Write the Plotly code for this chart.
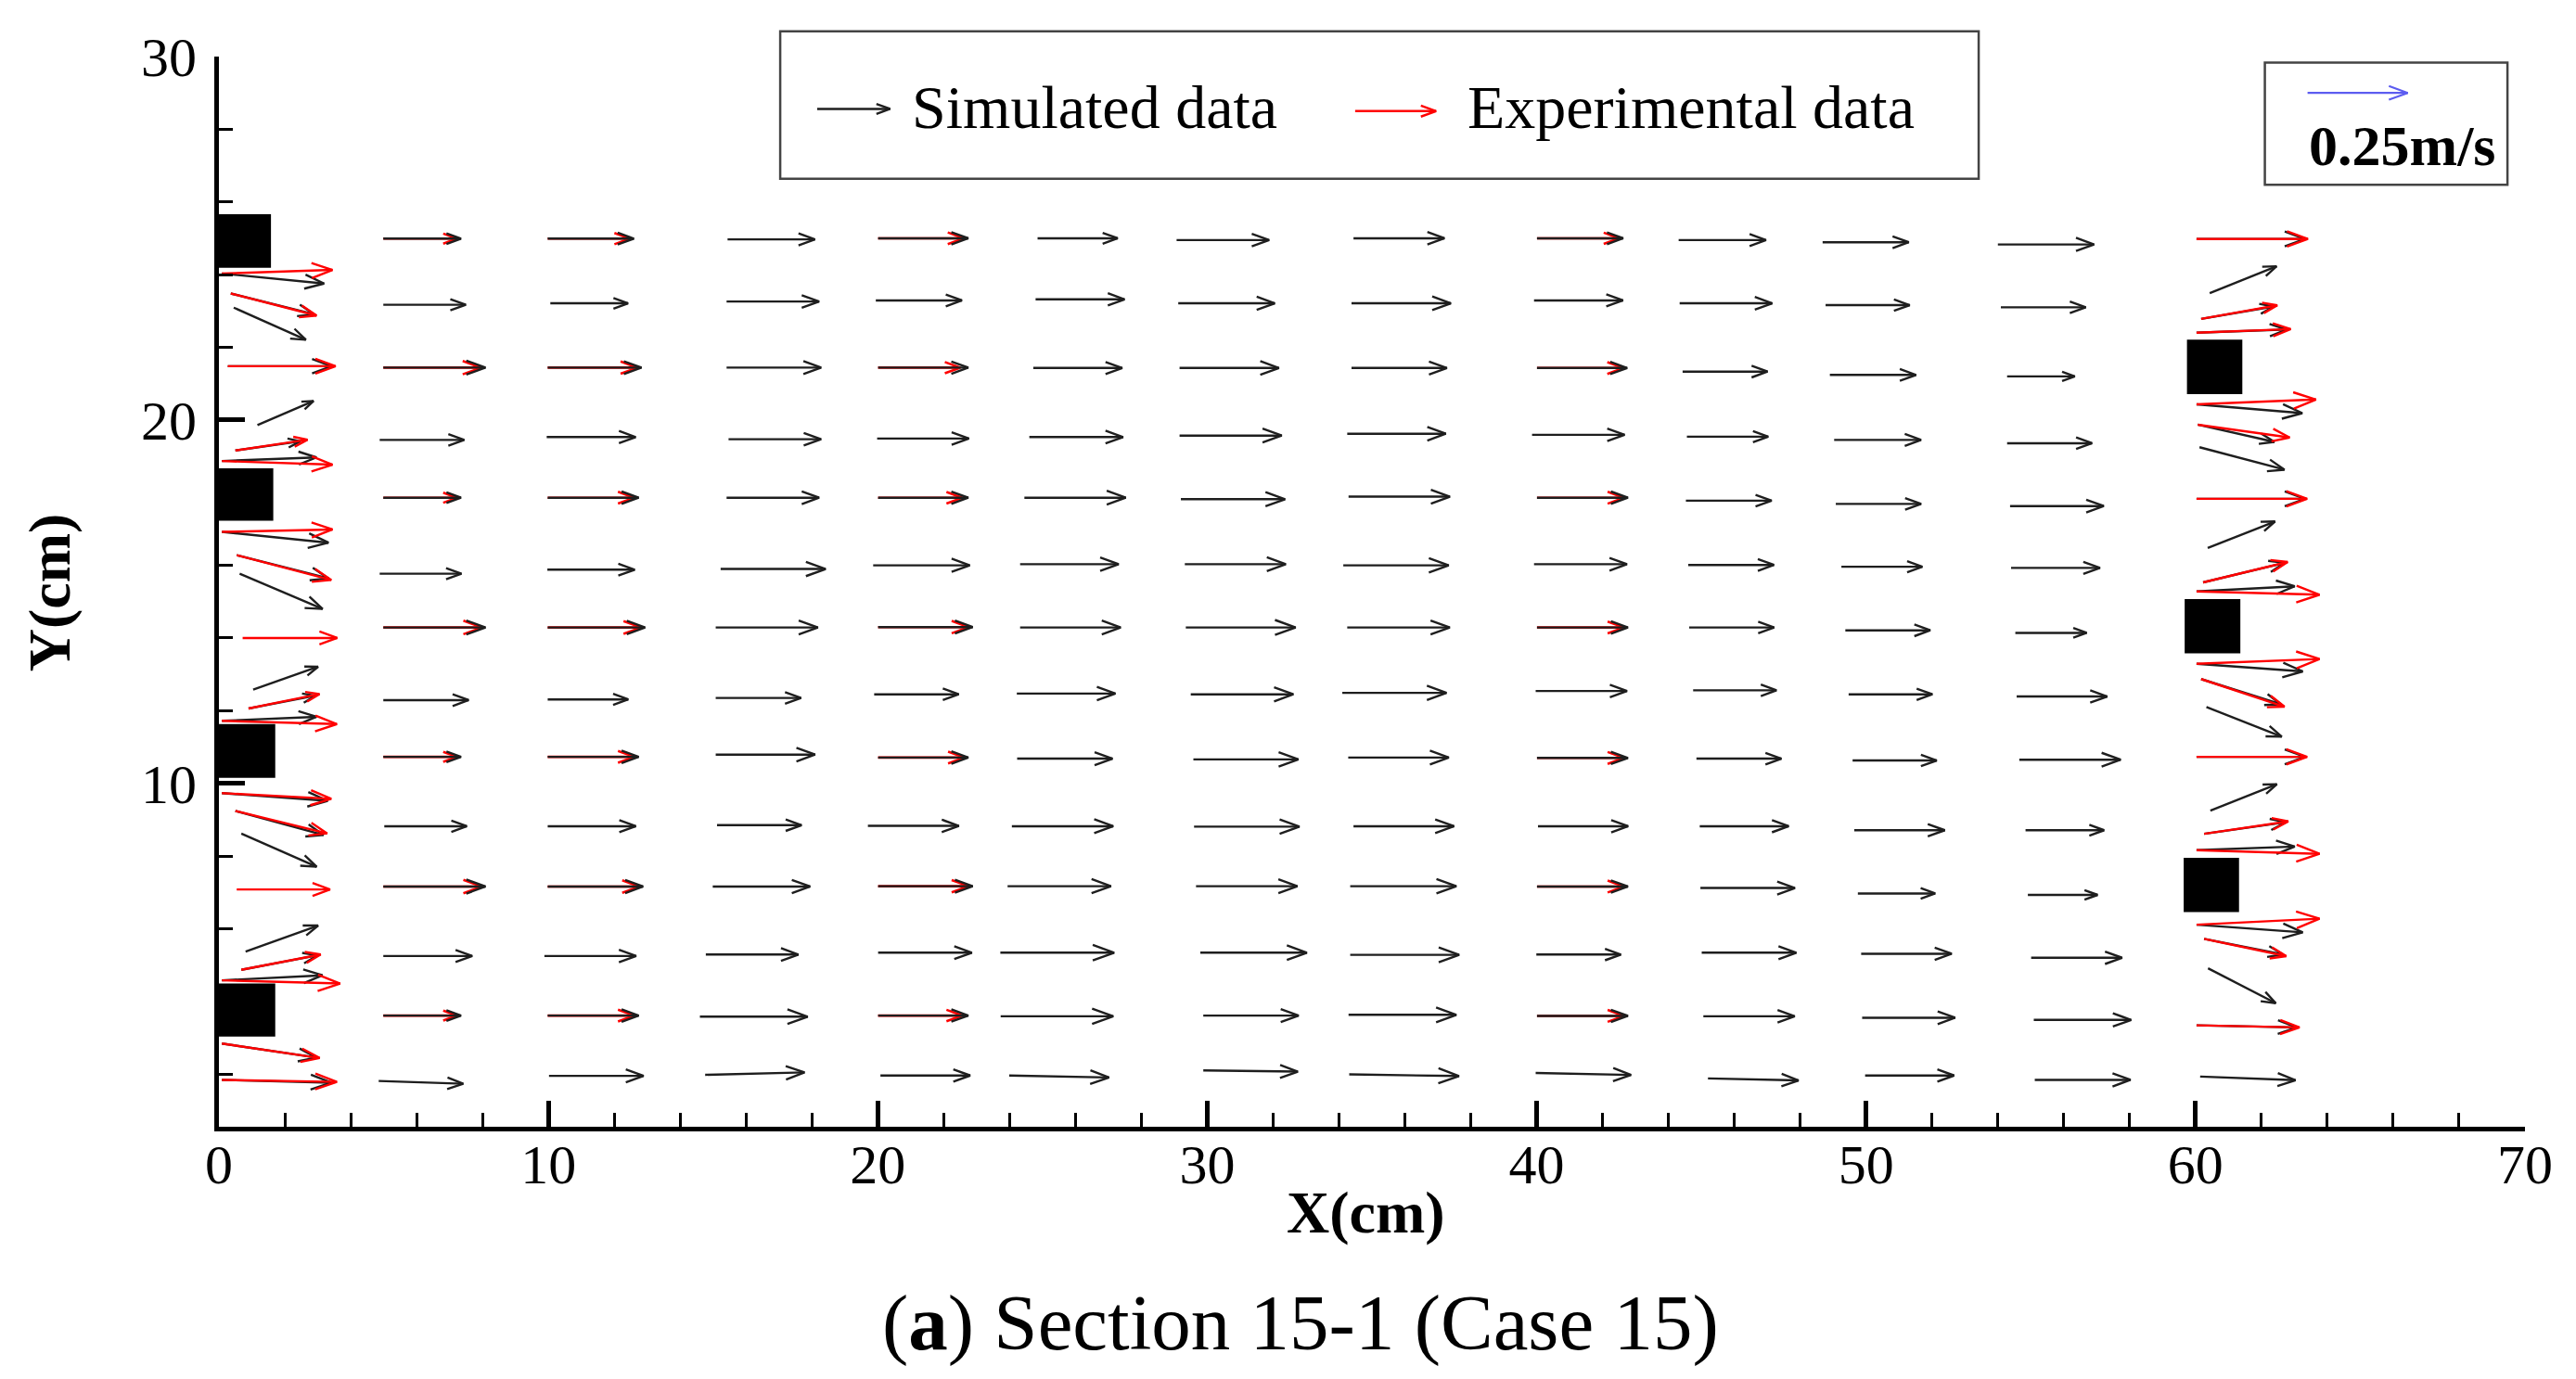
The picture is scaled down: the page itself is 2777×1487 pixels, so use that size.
import math
import plotly.graph_objects as go

# ---------------------------------------------------------------- data
# Velocity vectors: tail position (cm) and components u, v (m/s)

# --- simulated (black) : mid-channel measuring columns
c05_x = [4.99, 4.99, 4.99, 4.88, 4.99, 4.88, 4.99, 4.99, 4.99, 5.02, 4.99, 4.99, 4.99, 4.85]
c05_y = [24.99, 23.17, 21.44, 19.45, 17.86, 15.77, 14.29, 12.29, 10.73, 8.82, 7.16, 5.25, 3.61, 1.81]
c05_u = [0.194, 0.206, 0.255, 0.211, 0.194, 0.204, 0.255, 0.213, 0.194, 0.206, 0.255, 0.222, 0.194, 0.211]
c05_v = [0, 0, 0, 0, 0, 0, 0, 0, 0, 0, 0, 0, 0, -0.007]

c10_x = [9.98, 10.06, 9.98, 9.95, 9.98, 9.97, 9.98, 9.98, 9.98, 9.98, 9.98, 9.88, 9.98, 10.02]
c10_y = [24.99, 23.21, 21.44, 19.53, 17.86, 15.88, 14.29, 12.31, 10.73, 8.82, 7.16, 5.25, 3.61, 1.95]
c10_u = [0.215, 0.194, 0.234, 0.222, 0.227, 0.218, 0.243, 0.201, 0.227, 0.220, 0.238, 0.229, 0.227, 0.236]
c10_v = [0, 0, 0, 0, 0, 0, 0, 0, 0, 0, 0, 0, 0, 0]

c15_x = [15.44, 15.41, 15.41, 15.47, 15.41, 15.23, 15.08, 15.08, 15.08, 15.12, 14.99, 14.78, 14.60, 14.76]
c15_y = [24.97, 23.26, 21.44, 19.47, 17.86, 15.90, 14.29, 12.35, 10.79, 8.85, 7.16, 5.29, 3.58, 1.98]
c15_u = [0.218, 0.231, 0.236, 0.231, 0.231, 0.262, 0.255, 0.213, 0.248, 0.211, 0.243, 0.231, 0.269, 0.248]
c15_v = [0, 0, 0, 0, 0, 0, 0, 0, 0, 0, 0, 0, 0, 0.006]

c20_x = [20.01, 19.94, 20.01, 19.98, 20.01, 19.86, 20.01, 19.89, 20.01, 19.70, 20.01, 20.01, 20.01, 20.08]
c20_y = [25.00, 23.29, 21.44, 19.49, 17.86, 16.00, 14.30, 12.45, 10.71, 8.83, 7.17, 5.34, 3.61, 1.96]
c20_u = [0.225, 0.215, 0.225, 0.229, 0.225, 0.241, 0.236, 0.211, 0.225, 0.227, 0.236, 0.234, 0.225, 0.224]
c20_v = [0, 0, 0, 0, 0, 0, 0, 0, 0, 0, 0, 0, 0, 0]

c25_x = [24.85, 24.79, 24.72, 24.60, 24.45, 24.32, 24.32, 24.22, 24.23, 24.07, 23.94, 23.72, 23.73, 23.99]
c25_y = [25.00, 23.32, 21.43, 19.53, 17.86, 16.03, 14.29, 12.47, 10.68, 8.82, 7.17, 5.34, 3.59, 1.96]
c25_u = [0.200, 0.222, 0.222, 0.234, 0.253, 0.246, 0.251, 0.246, 0.238, 0.253, 0.258, 0.284, 0.281, 0.249]
c25_v = [0, 0, 0, 0, 0, 0, 0, 0, 0, 0, 0, 0, 0, -0.005]

c29_x = [29.07, 29.12, 29.16, 29.16, 29.20, 29.32, 29.35, 29.50, 29.58, 29.60, 29.66, 29.79, 29.88, 29.88]
c29_y = [24.95, 23.21, 21.43, 19.57, 17.82, 16.03, 14.29, 12.45, 10.66, 8.81, 7.17, 5.34, 3.61, 2.10]
c29_u = [0.231, 0.241, 0.248, 0.255, 0.260, 0.252, 0.274, 0.256, 0.262, 0.263, 0.253, 0.266, 0.238, 0.236]
c29_v = [0, 0, 0, 0, 0, 0, 0, 0, 0, 0, 0, 0, 0, -0.003]

c34_x = [34.44, 34.38, 34.38, 34.25, 34.29, 34.13, 34.25, 34.10, 34.28, 34.44, 34.34, 34.34, 34.29, 34.31]
c34_y = [25.00, 23.21, 21.43, 19.62, 17.89, 16.00, 14.29, 12.49, 10.71, 8.82, 7.17, 5.28, 3.63, 1.99]
c34_u = [0.227, 0.248, 0.238, 0.246, 0.253, 0.263, 0.256, 0.260, 0.251, 0.251, 0.265, 0.272, 0.269, 0.274]
c34_v = [0, 0, 0, 0, 0, 0, 0, 0, 0, 0, 0, 0, 0, -0.004]

c40_x = [40.01, 39.92, 40.01, 39.86, 40.01, 39.92, 40.01, 39.97, 40.01, 40.04, 40.01, 39.99, 40.01, 39.97]
c40_y = [25.00, 23.29, 21.43, 19.59, 17.86, 16.03, 14.29, 12.54, 10.70, 8.82, 7.16, 5.29, 3.60, 2.03]
c40_u = [0.215, 0.222, 0.225, 0.231, 0.227, 0.232, 0.227, 0.228, 0.227, 0.225, 0.227, 0.211, 0.227, 0.238]
c40_v = [0, 0, 0, 0, 0, 0, 0, 0, 0, 0, 0, 0, 0, -0.005]

c44_x = [44.31, 44.34, 44.43, 44.56, 44.53, 44.60, 44.63, 44.75, 44.85, 44.95, 44.97, 45.01, 45.06, 45.20]
c44_y = [24.95, 23.21, 21.33, 19.54, 17.78, 16.01, 14.29, 12.56, 10.68, 8.82, 7.12, 5.34, 3.59, 1.88]
c44_u = [0.218, 0.231, 0.212, 0.203, 0.214, 0.214, 0.212, 0.208, 0.212, 0.222, 0.236, 0.236, 0.228, 0.226]
c44_v = [0, 0, 0, 0, 0, 0, 0, 0, 0, 0, 0, 0, 0, -0.005]

c49_x = [48.68, 48.77, 48.90, 49.03, 49.08, 49.25, 49.37, 49.47, 49.59, 49.64, 49.75, 49.85, 49.88, 49.97]
c49_y = [24.89, 23.16, 21.24, 19.45, 17.69, 15.96, 14.21, 12.45, 10.63, 8.71, 6.97, 5.31, 3.55, 1.96]
c49_u = [0.215, 0.210, 0.215, 0.217, 0.213, 0.202, 0.212, 0.209, 0.210, 0.226, 0.193, 0.226, 0.232, 0.222]
c49_v = [0, 0, 0, 0, 0, 0, 0, 0, 0, 0, 0, 0, 0, 0]

c54_x = [54.00, 54.09, 54.28, 54.28, 54.37, 54.40, 54.53, 54.57, 54.65, 54.84, 54.91, 55.01, 55.09, 55.12]
c54_y = [24.83, 23.10, 21.20, 19.36, 17.63, 15.93, 14.14, 12.39, 10.65, 8.71, 6.93, 5.20, 3.49, 1.84]
c54_u = [0.240, 0.212, 0.169, 0.212, 0.234, 0.222, 0.178, 0.226, 0.253, 0.196, 0.174, 0.227, 0.243, 0.239]
c54_v = [0, 0, 0, 0, 0, 0, 0, 0, 0, 0, 0, 0, 0, 0]

# --- simulated (black) : column next to the left wall blocks
simL_x = [0.09, 0.36, 0.45, 0.27, 1.17, 0.50, 0.09, 0.09, 0.54, 0.63, 1.04, 0.90, 0.09,
          0.09, 0.50, 0.68, 0.81, 0.68, 0.09, 0.09, 0.09]
simL_y = [24.03, 23.48, 23.09, 21.48, 19.86, 19.16, 18.87, 16.92, 16.28, 15.77, 12.58, 12.06, 11.72,
          9.73, 9.24, 8.62, 5.37, 4.87, 4.58, 2.84, 1.84]
simL_u = [0.255, 0.208, 0.180, 0.259, 0.140, 0.162, 0.236, 0.266, 0.229, 0.207, 0.162, 0.167, 0.236,
          0.264, 0.220, 0.188, 0.181, 0.190, 0.251, 0.236, 0.273]
simL_v = [-0.025, -0.052, -0.080, 0.0, 0.060, 0.023, 0.009, -0.027, -0.058, -0.088, 0.057, 0.032, 0.010,
          -0.019, -0.060, -0.083, 0.065, 0.036, 0.0125, -0.035, -0.007]

# --- simulated (black) : column next to the right wall blocks
simR_x = [60.03, 60.43, 60.17, 60.03, 60.03, 60.07, 60.12, 60.03, 60.37, 60.23, 60.03, 60.03,
          60.17, 60.33, 60.03, 60.45, 60.26, 60.03, 60.03, 60.26, 60.38, 60.03, 60.14]
simR_y = [24.98, 23.49, 22.78, 22.40, 20.43, 19.87, 19.25, 17.83, 16.48, 15.53, 15.28, 13.29,
          12.87, 12.10, 10.73, 9.25, 8.61, 8.16, 6.11, 5.72, 4.91, 3.34, 1.93]
simR_u = [0.271, 0.167, 0.181, 0.225, 0.264, 0.191, 0.212, 0.271, 0.168, 0.204, 0.245, 0.265,
          0.199, 0.188, 0.271, 0.166, 0.204, 0.245, 0.265, 0.197, 0.169, 0.250, 0.238]
simR_v = [0.0, 0.067, 0.031, 0.008, -0.022, -0.043, -0.056, 0.0, 0.066, 0.049, 0.013, -0.019,
          -0.063, -0.074, 0.0, 0.066, 0.029, 0.009, -0.019, -0.039, -0.087, -0.005, -0.009]

# --- experimental (red) : mid-channel columns
exp05_x = [4.99, 4.99, 4.99, 4.99, 4.99, 4.99, 4.99]
exp05_y = [24.99, 21.44, 17.86, 14.29, 10.73, 7.16, 3.61]
exp05_u = [0.184, 0.244, 0.184, 0.246, 0.184, 0.246, 0.184]
exp10_x = [9.98, 9.98, 9.98, 9.98, 9.98, 9.98, 9.98]
exp10_y = [24.99, 21.44, 17.86, 14.29, 10.73, 7.16, 3.61]
exp10_u = [0.205, 0.224, 0.216, 0.233, 0.216, 0.229, 0.216]
exp20_x = [20.01, 20.01, 20.01, 20.01, 20.01, 20.01, 20.01]
exp20_y = [25.00, 21.44, 17.86, 14.30, 10.71, 7.17, 3.61]
exp20_u = [0.214, 0.205, 0.210, 0.226, 0.215, 0.226, 0.210]
exp40_x = [40.01, 40.01, 40.01, 40.01, 40.01, 40.01, 40.01]
exp40_y = [25.00, 21.43, 17.86, 14.29, 10.70, 7.16, 3.60]
exp40_u = [0.205, 0.216, 0.217, 0.217, 0.217, 0.217, 0.217]

# --- experimental (red) : columns next to the wall blocks
expL_x = [0.09, 0.36, 0.27, 0.50, 0.09, 0.09, 0.54, 0.72, 0.90, 0.09, 0.09, 0.50, 0.54, 0.68, 0.09, 0.09, 0.09]
expL_y = [24.03, 23.48, 21.48, 19.16, 18.87, 16.92, 16.28, 14.00, 12.06, 11.72, 9.73, 9.24, 7.08, 4.87, 4.58, 2.84, 1.84]
expL_u = [0.276, 0.214, 0.269, 0.180, 0.276, 0.276, 0.236, 0.236, 0.177, 0.287, 0.273, 0.229, 0.233, 0.198, 0.295, 0.244, 0.287]
expL_v = [0.009, -0.055, 0.0, 0.027, -0.009, 0.006, -0.062, 0.0, 0.036, -0.008, -0.014, -0.056, 0.0, 0.038, -0.008, -0.036, -0.005]

expR_x = [60.03, 60.17, 60.03, 60.03, 60.07, 60.03, 60.23, 60.03, 60.03, 60.17, 60.03, 60.26, 60.03, 60.03, 60.26, 60.03]
expR_y = [24.98, 22.78, 22.40, 20.43, 19.87, 17.83, 15.53, 15.28, 13.29, 12.87, 10.73, 8.61, 8.16, 6.11, 5.72, 3.34]
expR_u = [0.278, 0.190, 0.235, 0.298, 0.229, 0.276, 0.211, 0.307, 0.307, 0.208, 0.276, 0.210, 0.307, 0.307, 0.205, 0.257]
expR_v = [0.0, 0.034, 0.009, 0.012, -0.032, 0.0, 0.051, -0.008, 0.012, -0.069, 0.0, 0.031, -0.009, 0.015, -0.043, -0.005]

# --- reference vector and legend sample vectors
ref_x, ref_y, ref_u = [63.40], [29.00], [0.25]
leg_sim_x, leg_sim_y, leg_sim_u = [18.16], [28.56], [0.182]
leg_exp_x, leg_exp_y, leg_exp_u = [34.49], [28.50], [0.202]

# --- obstacles (black blocks), cm
blkL_x0 = [0.0, 0.0, 0.0, 0.0]
blkL_x1 = [1.58, 1.65, 1.71, 1.71]
blkL_y0 = [24.19, 17.23, 10.15, 3.03]
blkL_y1 = [25.66, 18.67, 11.63, 4.49]
blkR_x0 = [59.74, 59.67, 59.64]
blkR_x1 = [61.42, 61.36, 61.32]
blkR_y0 = [20.71, 13.58, 6.46]
blkR_y1 = [22.21, 15.07, 7.95]

x_ticks = [0, 10, 20, 30, 40, 50, 60, 70]
y_ticks = [10, 20, 30]

# ---------------------------------------------------------------- layout geometry
FIG_W, FIG_H = 2777, 1487
M_L, M_R, M_T, M_B = 236, 55, 61, 272
X_RANGE = [0, 70]
Y_RANGE = [0.55, 30]
PLOT_W = FIG_W - M_L - M_R
PLOT_H = FIG_H - M_T - M_B
PX_X = PLOT_W / (X_RANGE[1] - X_RANGE[0])
PX_Y = PLOT_H / (Y_RANGE[1] - Y_RANGE[0])
PX_PER_MS = 108 / 0.25          # reference vector: 0.25 m/s drawn 108 px long
HEAD_FRAC = 0.2
HEAD_ANG = math.radians(20)

SERIF = "Liberation Serif, Times New Roman, serif"
BLACK = "#1e1e1e"
RED = "#ff0000"


def arrows(xs, ys, us, vs=None):
    if vs is None:
        vs = [0.0] * len(xs)
    px, py = [], []
    for x, y, u, v in zip(xs, ys, us, vs):
        dxp, dyp = u * PX_PER_MS, v * PX_PER_MS
        L = math.hypot(dxp, dyp)
        tx, ty = x + dxp / PX_X, y + dyp / PX_Y
        a = math.atan2(dyp, dxp)
        hl = HEAD_FRAC * L
        b1x = tx - hl * math.cos(a + HEAD_ANG) / PX_X
        b1y = ty - hl * math.sin(a + HEAD_ANG) / PX_Y
        b2x = tx - hl * math.cos(a - HEAD_ANG) / PX_X
        b2y = ty - hl * math.sin(a - HEAD_ANG) / PX_Y
        px += [x, tx, None, b1x, tx, b2x, None]
        py += [y, ty, None, b1y, ty, b2y, None]
    return px, py


def line_trace(px, py, color, width):
    return go.Scatter(x=px, y=py, mode="lines", line=dict(color=color, width=width),
                      hoverinfo="skip", showlegend=False)


fig = go.Figure()

# experimental vectors of the mid columns (under the simulated ones)
mx, my = [], []
for xs, ys, us in [(exp05_x, exp05_y, exp05_u), (exp10_x, exp10_y, exp10_u),
                   (exp20_x, exp20_y, exp20_u), (exp40_x, exp40_y, exp40_u)]:
    a, b = arrows(xs, ys, us)
    mx += a
    my += b
fig.add_trace(line_trace(mx, my, RED, 2.6))

# simulated vectors
sx, sy = [], []
for xs, ys, us, vs in [(c05_x, c05_y, c05_u, c05_v), (c10_x, c10_y, c10_u, c10_v),
                       (c15_x, c15_y, c15_u, c15_v), (c20_x, c20_y, c20_u, c20_v),
                       (c25_x, c25_y, c25_u, c25_v), (c29_x, c29_y, c29_u, c29_v),
                       (c34_x, c34_y, c34_u, c34_v), (c40_x, c40_y, c40_u, c40_v),
                       (c44_x, c44_y, c44_u, c44_v), (c49_x, c49_y, c49_u, c49_v),
                       (c54_x, c54_y, c54_u, c54_v), (simL_x, simL_y, simL_u, simL_v),
                       (simR_x, simR_y, simR_u, simR_v), (leg_sim_x, leg_sim_y, leg_sim_u, None)]:
    a, b = arrows(xs, ys, us, vs)
    sx += a
    sy += b
fig.add_trace(line_trace(sx, sy, BLACK, 2.4))

# experimental vectors near the walls
ex, ey = [], []
for xs, ys, us, vs in [(expL_x, expL_y, expL_u, expL_v), (expR_x, expR_y, expR_u, expR_v),
                       (leg_exp_x, leg_exp_y, leg_exp_u, None)]:
    a, b = arrows(xs, ys, us, vs)
    ex += a
    ey += b
fig.add_trace(line_trace(ex, ey, RED, 2.4))

# reference vector
rx, ry = arrows(ref_x, ref_y, ref_u)
fig.add_trace(line_trace(rx, ry, "#5c5cf0", 2.2))

shapes = []
for x0, x1, y0, y1 in list(zip(blkL_x0, blkL_x1, blkL_y0, blkL_y1)) + list(zip(blkR_x0, blkR_x1, blkR_y0, blkR_y1)):
    shapes.append(dict(type="rect", xref="x", yref="y", x0=x0, x1=x1, y0=y0, y1=y1,
                       fillcolor="black", line=dict(width=0), layer="above"))
# legend frame and reference-vector frame
shapes.append(dict(type="rect", xref="paper", yref="paper", x0=0.2434, x1=0.7631, y0=0.8859, y1=1.0237,
                   line=dict(color="#444444", width=2.5), fillcolor="rgba(0,0,0,0)", layer="below"))
shapes.append(dict(type="rect", xref="paper", yref="paper", x0=0.8872, x1=0.9924, y0=0.8803, y1=0.9943,
                   line=dict(color="#444444", width=2.5), fillcolor="rgba(0,0,0,0)", layer="below"))

annotations = [
    dict(text="Simulated data", xref="paper", yref="paper", x=0.2995, y=0.9530,
         xanchor="left", yanchor="middle", showarrow=False, font=dict(family=SERIF, size=66, color="black")),
    dict(text="Experimental data", xref="paper", yref="paper", x=0.5408, y=0.9530,
         xanchor="left", yanchor="middle", showarrow=False, font=dict(family=SERIF, size=66, color="black")),
    dict(text="<b>0.25m/s</b>", xref="paper", yref="paper", x=0.9469, y=0.9168,
         xanchor="center", yanchor="middle", showarrow=False, font=dict(family=SERIF, size=62, color="black")),
    dict(text="<b>X(cm)</b>", xref="paper", yref="paper", x=0.4975, y=-0.0800,
         xanchor="center", yanchor="middle", showarrow=False, font=dict(family=SERIF, size=64, color="black")),
    dict(text="<b>Y(cm)</b>", xref="paper", yref="paper", x=-0.0736, y=0.499, textangle=-90,
         xanchor="center", yanchor="middle", showarrow=False, font=dict(family=SERIF, size=64, color="black")),
    dict(text="(<b>a</b>) Section 15-1 (Case 15)", xref="paper", yref="paper", x=0.4690, y=-0.1837,
         xanchor="center", yanchor="middle", showarrow=False, font=dict(family=SERIF, size=85, color="black")),
]

axis_common = dict(
    showgrid=False, zeroline=False, showline=True, linecolor="black", linewidth=5,
    ticks="inside", ticklen=28, tickwidth=5, tickcolor="black",
    tickfont=dict(family=SERIF, size=60, color="black"),
    minor=dict(ticks="inside", ticklen=15, tickwidth=2.5, tickcolor="black", dtick=2, showgrid=False),
    automargin=False,
)

fig.update_layout(
    width=FIG_W, height=FIG_H,
    margin=dict(l=M_L, r=M_R, t=M_T, b=M_B, autoexpand=False),
    paper_bgcolor="white", plot_bgcolor="white",
    xaxis=dict(range=X_RANGE, tickvals=x_ticks, ticktext=[str(v) for v in x_ticks],
               ticklabelstandoff=-16, **axis_common),
    yaxis=dict(range=Y_RANGE, tickvals=y_ticks, ticktext=[str(v) for v in y_ticks],
               ticklabelstandoff=7, **axis_common),
    shapes=shapes,
    annotations=annotations,
    showlegend=False,
)

fig.write_html("out.html", config={"displayModeBar": False},
               post_script="document.body.style.margin='0px';document.body.style.overflow='hidden';")
